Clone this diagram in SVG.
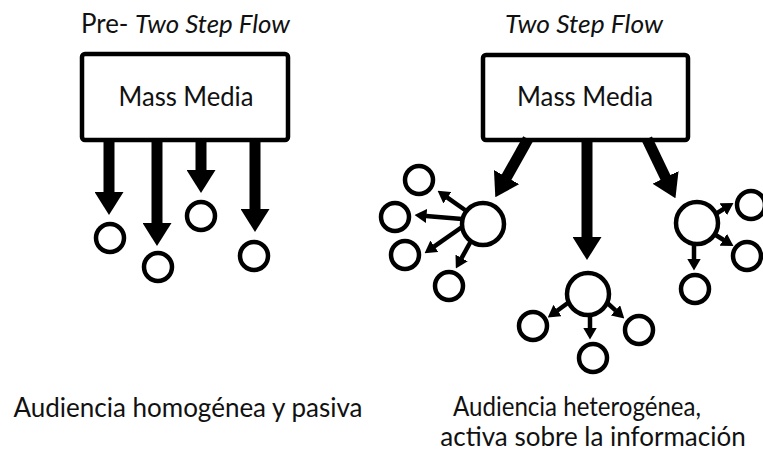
<svg xmlns="http://www.w3.org/2000/svg" width="763" height="454" viewBox="0 0 763 454">
<style>
text{font-family:Lato,"Open Sans","Liberation Sans",sans-serif;fill:#111;font-size:26px}
.it{font-style:italic}
.box{fill:#fff;stroke:#000;stroke-width:4.5}
.node{fill:#fff;stroke:#000;stroke-width:4.5}
.big{stroke:#000;stroke-width:11;fill:none}
.small{stroke:#000;stroke-width:4.5;fill:none}
</style>
<defs>
<marker id="bh" markerUnits="userSpaceOnUse" markerWidth="23" markerHeight="29" viewBox="0 0 23 29" refX="1" refY="14.5" orient="auto"><path d="M0,0 L23,14.5 L0,29 Z" fill="#000"/></marker>
<marker id="sh" markerUnits="userSpaceOnUse" markerWidth="12" markerHeight="14" viewBox="0 0 12 14" refX="0.5" refY="7" orient="auto"><path d="M0,0 L12,7 L0,14 Z" fill="#000"/></marker>
</defs>
<g id="titles">
<text x="81" y="33" textLength="209" lengthAdjust="spacingAndGlyphs">Pre- <tspan class="it">Two Step Flow</tspan></text>
<text class="it" x="584" y="33" text-anchor="middle" textLength="158" lengthAdjust="spacingAndGlyphs">Two Step Flow</text>
</g>
<g id="media-left"><rect class="box" x="82" y="54" width="206" height="86" rx="3"/><text x="186" y="106" text-anchor="middle" textLength="135" lengthAdjust="spacingAndGlyphs">Mass Media</text></g>
<g id="media-right"><rect class="box" x="483" y="55" width="205" height="85" rx="3"/><text x="585" y="106" text-anchor="middle" textLength="136" lengthAdjust="spacingAndGlyphs">Mass Media</text></g>
<g id="connectors">
<line class="big" x1="109" y1="140" x2="109" y2="193" marker-end="url(#bh)"/>
<line class="big" x1="157" y1="140" x2="157" y2="224" marker-end="url(#bh)"/>
<line class="big" x1="201" y1="140" x2="201" y2="171" marker-end="url(#bh)"/>
<line class="big" x1="255" y1="140" x2="255" y2="210" marker-end="url(#bh)"/>
<line class="big" x1="528" y1="139" x2="506.1" y2="178" marker-end="url(#bh)"/>
<line class="big" x1="587" y1="140" x2="587" y2="238" marker-end="url(#bh)"/>
<line class="big" x1="647" y1="139" x2="665.9" y2="178.3" marker-end="url(#bh)"/>
<line class="small" x1="465" y1="210" x2="447" y2="197.4" marker-end="url(#sh)"/>
<line class="small" x1="462" y1="219" x2="426" y2="216" marker-end="url(#sh)"/>
<line class="small" x1="462" y1="227" x2="434" y2="246.6" marker-end="url(#sh)"/>
<line class="small" x1="471" y1="241" x2="461.4" y2="258.4" marker-end="url(#sh)"/>
<line class="small" x1="572" y1="300" x2="557.1" y2="310.8" marker-end="url(#sh)"/>
<line class="small" x1="590" y1="313" x2="590" y2="328" marker-end="url(#sh)"/>
<line class="small" x1="604" y1="300" x2="615.8" y2="310.7" marker-end="url(#sh)"/>
<line class="small" x1="714" y1="215" x2="723.7" y2="209" marker-end="url(#sh)"/>
<line class="small" x1="714" y1="234" x2="723.7" y2="240" marker-end="url(#sh)"/>
<line class="small" x1="694" y1="242" x2="694" y2="259" marker-end="url(#sh)"/>
</g>
<g id="pre-audience">
<circle class="node" cx="110" cy="238" r="14"/>
<circle class="node" cx="158" cy="267" r="14"/>
<circle class="node" cx="201" cy="216" r="14"/>
<circle class="node" cx="254" cy="256" r="14"/>
</g>
<g id="leader-left">
<circle class="node" cx="483" cy="224" r="21"/>
<circle class="node" cx="419" cy="180" r="14"/>
<circle class="node" cx="395" cy="217" r="14"/>
<circle class="node" cx="405" cy="255" r="14"/>
<circle class="node" cx="449" cy="286" r="14"/>
</g>
<g id="leader-middle">
<circle class="node" cx="588" cy="294" r="21"/>
<circle class="node" cx="533" cy="326" r="14"/>
<circle class="node" cx="593" cy="358" r="14"/>
<circle class="node" cx="639" cy="330" r="14"/>
</g>
<g id="leader-right">
<circle class="node" cx="697" cy="223" r="21"/>
<circle class="node" cx="751" cy="205" r="14"/>
<circle class="node" cx="747" cy="256" r="14"/>
<circle class="node" cx="695" cy="289" r="14"/>
</g>
<g id="captions">
<text x="188" y="417" text-anchor="middle">Audiencia homogénea y pasiva</text>
<text x="577" y="416" text-anchor="middle" textLength="248" lengthAdjust="spacingAndGlyphs">Audiencia heterogénea,</text>
<text x="593" y="446" text-anchor="middle">activa sobre la información</text>
</g>
</svg>
